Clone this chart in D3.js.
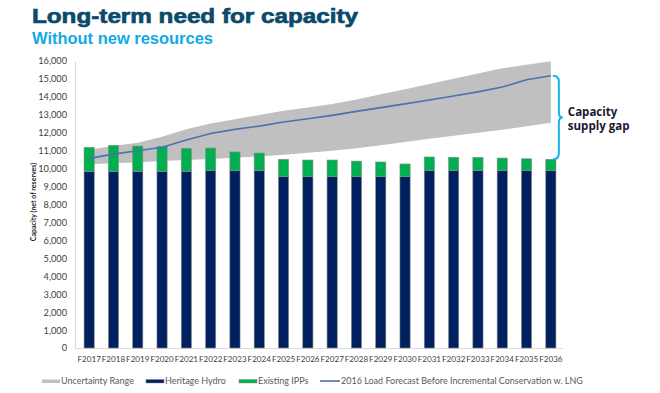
<!DOCTYPE html>
<html>
<head>
<meta charset="utf-8">
<script src="https://cdn.jsdelivr.net/npm/d3@7"></script>
<style>
  body { margin: 0; background: #fff; }
  svg { display: block; }
  .tick text { font-family: Lato, "Open Sans", sans-serif; fill: #404040; }
</style>
</head>
<body>
<div id="chart"></div>
<script>
// Chart data
var years = ['F2017', 'F2018', 'F2019', 'F2020', 'F2021', 'F2022', 'F2023', 'F2024', 'F2025', 'F2026',
	'F2027', 'F2028', 'F2029', 'F2030', 'F2031', 'F2032', 'F2033', 'F2034', 'F2035', 'F2036'];
var heritageHydro = [9830, 9850, 9850, 9850, 9850, 9900, 9900, 9900, 9550, 9550,
	9550, 9550, 9550, 9550, 9900, 9900, 9900, 9900, 9900, 9900];
var existingIPPs = [1360, 1450, 1410, 1390, 1280, 1250, 1030, 970, 970, 930,
	930, 870, 820, 710, 750, 730, 730, 690, 650, 620];
var loadForecast = [10570, 10810, 11000, 11190, 11590, 11960, 12190, 12370, 12600, 12780,
	12970, 13190, 13400, 13610, 13830, 14050, 14280, 14550, 14950, 15180];
var uncertaintyLow = [10250, 10300, 10350, 10420, 10480, 10540, 10600, 10680, 10780, 10880,
	10990, 11130, 11300, 11480, 11660, 11830, 12000, 12170, 12360, 12560];
var uncertaintyHigh = [11050, 11260, 11440, 11780, 12190, 12520, 12750, 12990, 13230, 13410,
	13600, 13860, 14150, 14430, 14720, 15010, 15300, 15590, 15790, 15980];
var yTicks = d3.range(0, 16001, 1000);

var legendItems = [
	{ label: 'Uncertainty Range', color: '#c0c0c0', kind: 'band' },
	{ label: 'Heritage Hydro', color: '#002060', kind: 'bar' },
	{ label: 'Existing IPPs', color: '#00b050', kind: 'bar' },
	{ label: '2016 Load Forecast Before Incremental Conservation w. LNG', color: '#4a72b0', kind: 'line' }
];

var svgWidth = 660;
var svgHeight = 393;

var svg = d3.select('#chart').append('svg').attr('width', svgWidth).attr('height', svgHeight);

// Titles
svg.append('text')
	.attr('x', 32)
	.attr('y', 23)
	.attr('font-family', '"Liberation Sans", Arial, sans-serif')
	.attr('font-weight', 'bold')
	.attr('font-size', 21)
	.attr('textLength', 326)
	.attr('lengthAdjust', 'spacingAndGlyphs')
	.attr('fill', '#0b4a6b')
	.attr('stroke', '#0b4a6b')
	.attr('stroke-width', 0.7)
	.text('Long-term need for capacity');

svg.append('text')
	.attr('x', 32)
	.attr('y', 44)
	.attr('font-family', '"Liberation Sans", Arial, sans-serif')
	.attr('font-weight', 'bold')
	.attr('font-size', 16)
	.attr('textLength', 181)
	.attr('lengthAdjust', 'spacingAndGlyphs')
	.attr('fill', '#12a9e6')
	.text('Without new resources');

// Scales
var x = d3.scaleBand().domain(years).range([77, 563]).paddingInner(0.58).paddingOuter(0.29);
var y = d3.scaleLinear().domain([0, 16000]).range([348, 61]);
var cx = (d) => x(d) + x.bandwidth() / 2;

// Axes
var leftAxis = d3.axisLeft(y).tickValues(yTicks).tickFormat(d3.format(',')).tickSize(0).tickPadding(8);
svg.append('g')
	.attr('transform', 'translate(75,0)')
	.call(leftAxis)
	.call((g) => g.select('.domain').attr('stroke', '#d9d9d9'))
	.selectAll('text').attr('font-size', 9.2);

var bottomAxis = d3.axisBottom(x).tickSize(0).tickPadding(8);
svg.append('g')
	.attr('transform', 'translate(0,348)')
	.call(bottomAxis)
	.call((g) => g.select('.domain').attr('stroke', '#d9d9d9').attr('d', 'M75,0.5H563'))
	.selectAll('text').attr('font-size', 8.1).attr('fill', '#262626');

// Y axis title
svg.append('text')
	.attr('transform', 'translate(36,202) rotate(-90)')
	.attr('text-anchor', 'middle')
	.attr('font-family', 'Lato, sans-serif')
	.attr('font-weight', 'bold')
	.attr('font-size', 7)
	.attr('fill', '#262626')
	.text('Capacity (net of reserves)');

// Uncertainty band
var band = d3.area()
	.x((d, i) => cx(years[i]))
	.y0((d, i) => y(uncertaintyLow[i]))
	.y1((d, i) => y(uncertaintyHigh[i]));
svg.append('path')
	.datum(years)
	.attr('d', band)
	.attr('fill', '#c0c0c0');

// Stacked bars
var stackData = years.map((d, i) => ({ year: d, hydro: heritageHydro[i], ipp: existingIPPs[i] }));
var series = d3.stack().keys(['hydro', 'ipp'])(stackData);
var barColors = { hydro: '#002060', ipp: '#00b050' };

svg.append('g')
	.selectAll('g')
	.data(series)
	.enter()
	.append('g')
	.attr('fill', (s) => barColors[s.key])
	.selectAll('rect')
	.data((s) => s)
	.enter()
	.append('rect')
	.attr('x', (d) => x(d.data.year))
	.attr('y', (d) => y(d[1]))
	.attr('width', x.bandwidth())
	.attr('height', (d) => y(d[0]) - y(d[1]))
	.attr('stroke', '#8c8c8c')
	.attr('stroke-width', 0.6);

// Load forecast line
var line = d3.line()
	.x((d, i) => cx(years[i]))
	.y((d) => y(d));
svg.append('path')
	.datum(loadForecast)
	.attr('d', line)
	.attr('fill', 'none')
	.attr('stroke', '#4a72b0')
	.attr('stroke-width', 1.6);

// Capacity supply gap brace
var last = years.length - 1;
var bx = cx(years[last]) + 2;
var yTop = y(loadForecast[last]);
var yBot = y(heritageHydro[last] + existingIPPs[last]);
var yMid = (yTop + yBot) / 2;
var brace = d3.path();
brace.moveTo(bx, yTop);
brace.quadraticCurveTo(bx + 6, yTop, bx + 6, yTop + 6);
brace.lineTo(bx + 6, yMid - 5);
brace.quadraticCurveTo(bx + 6, yMid, bx + 10, yMid);
brace.quadraticCurveTo(bx + 6, yMid, bx + 6, yMid + 5);
brace.lineTo(bx + 6, yBot - 6);
brace.quadraticCurveTo(bx + 6, yBot, bx, yBot);
svg.append('path')
	.attr('d', brace.toString())
	.attr('fill', 'none')
	.attr('stroke', '#17b0ee')
	.attr('stroke-width', 2);

var gapLabel = svg.append('text')
	.attr('font-family', '"Open Sans", sans-serif')
	.attr('font-weight', 'bold')
	.attr('font-size', 11.5)
	.attr('fill', '#1a1a33');
gapLabel.append('tspan').attr('x', bx + 15).attr('y', yMid - 2).text('Capacity');
gapLabel.append('tspan').attr('x', bx + 15).attr('y', yMid + 12).text('supply gap');

// Legend
var legendX = [42, 146, 239, 320];
var legend = svg.append('g').attr('font-family', 'Lato, sans-serif').attr('font-size', 9);
legendItems.forEach(function(item, i) {
	var g = legend.append('g').attr('transform', `translate(${legendX[i]}, 381)`);
	if (item.kind === 'line') {
		g.append('line').attr('x1', 0).attr('x2', 20).attr('y1', 0).attr('y2', 0)
			.attr('stroke', item.color).attr('stroke-width', 1.6);
	} else {
		g.append('rect').attr('x', 0).attr('y', -1.5).attr('width', 18).attr('height', 3.5)
			.attr('fill', item.color)
			.attr('stroke', item.kind === 'band' ? 'none' : '#8c8c8c').attr('stroke-width', 0.5);
	}
	g.append('text')
		.attr('x', item.kind === 'line' ? 21 : 19)
		.attr('y', 3.2)
		.attr('fill', '#595959')
		.text(item.label);
});
</script>
</body>
</html>
